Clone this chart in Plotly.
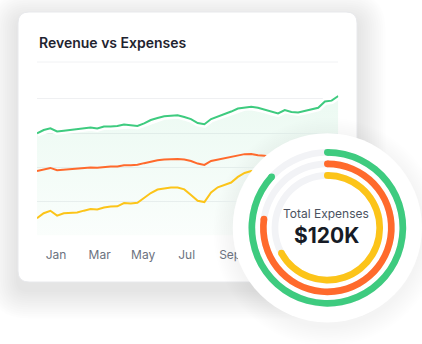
import plotly.graph_objects as go

W, H = 422, 344

# ---------------- data ----------------
month_labels = ["Jan", "Mar", "May", "Jul", "Sep", "Nov"]
month_ticks = [2.85, 9.35, 15.85, 22.35, 28.85, 35.35]   # sample index of each label

revenue = [74.9, 77.3, 78.5, 76.2, 76.8, 77.3, 77.8, 78.5, 79.1, 78.4,
           79.9, 79.9, 80.2, 81.3, 81.0, 80.2, 82.1, 84.6, 86.1, 87.3,
           87.7, 88.1, 86.8, 85.3, 82.4, 81.5, 85.3, 87.2, 88.6, 90.8,
           93.0, 93.9, 94.3, 93.6, 92.2, 90.5, 89.4, 91.9, 90.5, 90.1,
           91.2, 92.3, 93.6, 98.2, 98.8, 102.2]
expenses = [47.3, 48.5, 49.5, 47.8, 48.2, 48.3, 48.7, 49.2, 49.8, 49.6,
            50.2, 50.5, 50.6, 51.4, 51.5, 51.8, 53.0, 54.2, 55.1, 55.6,
            56.0, 56.1, 55.6, 54.6, 52.7, 51.7, 54.6, 55.7, 56.6, 57.5,
            58.8, 59.6, 59.7, 58.8, 58.5, 57.4, 56.7, 58.3, 57.4, 57.1,
            57.9, 58.6, 59.4, 62.4, 62.8, 65.1]
profit = [12.6, 16.3, 18.1, 14.6, 16.3, 16.5, 16.8, 18.2, 19.4, 19.0,
          20.5, 21.2, 21.4, 23.8, 23.4, 24.0, 27.8, 31.1, 33.7, 34.4,
          35.2, 35.2, 33.8, 29.7, 25.4, 24.5, 31.5, 35.3, 37.2, 38.8,
          42.9, 45.8, 47.3, 47.3, 45.1, 42.9, 41.4, 45.8, 43.6, 42.9,
          45.1, 46.5, 48.7, 56.8, 57.5, 62.6]

ring_names = ["Revenue", "Expenses", "Profit"]
ring_share = [0.868, 0.772, 0.670]          # fraction of a full turn
total_label = "Total Expenses"
total_value = "$120K"
title_text = "Revenue vs Expenses"

GREEN, ORANGE, YELLOW = "#3ECB7F", "#FF6A2C", "#FCC419"
ring_colors = [GREEN, ORANGE, YELLOW]
TRACK = "#F2F3F6"


def px_x(p):
    return p / W


def px_y(p):
    return 1 - p / H


def rrect(x0, y0, x1, y1, r):
    X0, X1 = px_x(x0), px_x(x1)
    Y0, Y1 = px_y(y0), px_y(y1)
    rx, ry = r / W, r / H
    return (f"M{X0+rx},{Y0} L{X1-rx},{Y0} Q{X1},{Y0} {X1},{Y0-ry} "
            f"L{X1},{Y1+ry} Q{X1},{Y1} {X1-rx},{Y1} L{X0+rx},{Y1} "
            f"Q{X0},{Y1} {X0},{Y1+ry} L{X0},{Y0-ry} Q{X0},{Y0} {X0+rx},{Y0} Z")


shapes = []
# card shadow
for k in range(1, 14):
    e = 2.2 * k
    shapes.append(dict(type="path", xref="paper", yref="paper", layer="below",
                       path=rrect(18 - e, 12 - e + 8, 357 + e, 282 + e + 8, 10 + e),
                       fillcolor="rgba(0,0,0,0.006)", line=dict(width=0)))
# card
shapes.append(dict(type="path", xref="paper", yref="paper", layer="below",
                   path=rrect(18, 12, 357, 282, 11),
                   fillcolor="white", line=dict(color="#E8E9EC", width=1)))
# header divider
shapes.append(dict(type="line", xref="paper", yref="paper", layer="below",
                   x0=px_x(37), x1=px_x(338), y0=px_y(62), y1=px_y(62),
                   line=dict(color="#F1F2F4", width=1)))
# round badge shadow
cx, cy, R = 327.35, 227.8, 94.65
for k in range(1, 12):
    e = 1.8 * k
    shapes.append(dict(type="circle", xref="paper", yref="paper", layer="below",
                       x0=px_x(cx - R - e), x1=px_x(cx + R + e),
                       y0=px_y(cy + 4 - R - e), y1=px_y(cy + 4 + R + e),
                       fillcolor="rgba(0,0,0,0.0045)", line=dict(width=0)))

fig = go.Figure()

# area under revenue
fig.add_trace(go.Scatter(y=revenue, mode="lines", fill="tozeroy",
                         line=dict(width=0, color="rgba(0,0,0,0)"),
                         fillgradient=dict(type="vertical",
                                           colorscale=[[0, "rgba(61,203,127,0.025)"],
                                                       [1, "rgba(61,203,127,0.10)"]]),
                         hoverinfo="skip", showlegend=False))
fig.add_trace(go.Scatter(y=revenue, mode="lines", line=dict(color="white", width=7),
                         hoverinfo="skip", showlegend=False))
fig.add_trace(go.Scatter(y=profit, mode="lines", name="Profit",
                         line=dict(color=YELLOW, width=2), showlegend=False))
fig.add_trace(go.Scatter(y=expenses, mode="lines", name="Expenses",
                         line=dict(color=ORANGE, width=2), showlegend=False))
fig.add_trace(go.Scatter(y=revenue, mode="lines", name="Revenue",
                         line=dict(color=GREEN, width=2), showlegend=False))

# rings
ring_mid = [0.7977, 0.6762, 0.5536]
ring_w = 0.0708
cap_px = 6.7
for mid in ring_mid:
    fig.add_trace(go.Barpolar(theta=[180], width=[360], r=[ring_w], base=[mid - ring_w / 2],
                              marker=dict(color=TRACK, line=dict(width=0)),
                              subplot="polar", showlegend=False, hoverinfo="skip"))
for name, share, col, mid in zip(ring_names, ring_share, ring_colors, ring_mid):
    span = share * 360
    fig.add_trace(go.Barpolar(theta=[span / 2], width=[span], r=[ring_w], base=[mid - ring_w / 2],
                              marker=dict(color=col, line=dict(width=0)), name=name,
                              subplot="polar", showlegend=False))
    fig.add_trace(go.Scatterpolar(theta=[0, span], r=[mid, mid], mode="markers",
                                  marker=dict(color=col, size=cap_px, line=dict(width=0)),
                                  subplot="polar", showlegend=False, hoverinfo="skip"))

annotations = [
    dict(text=title_text, x=px_x(37), y=px_y(42), xref="paper", yref="paper",
         xanchor="left", yanchor="middle", showarrow=False,
         font=dict(family="Inter", size=14, color="#1F2430", weight=600)),
    dict(text=total_label, x=px_x(326), y=px_y(213), xref="paper", yref="paper",
         xanchor="center", yanchor="middle", showarrow=False,
         font=dict(family="Inter", size=12, color="#4B5260")),
    dict(text=total_value, x=px_x(326), y=px_y(235), xref="paper", yref="paper",
         xanchor="center", yanchor="middle", showarrow=False,
         font=dict(family="Inter", size=21, color="#161B26", weight=700)),
]

fig.update_layout(
    width=W, height=H, margin=dict(l=0, r=0, t=0, b=0),
    paper_bgcolor="white", plot_bgcolor="rgba(0,0,0,0)",
    shapes=shapes, annotations=annotations, showlegend=False,
    xaxis=dict(domain=[px_x(37), px_x(338.3)], range=[0, len(revenue) - 1],
               tickvals=month_ticks, ticktext=month_labels,
               showgrid=False, zeroline=False, showline=False,
               ticks="outside", ticklen=8, tickcolor="rgba(0,0,0,0)",
               tickfont=dict(family="Inter", size=12, color="#6B7280")),
    yaxis=dict(domain=[px_y(235.5), px_y(62)], range=[0, 127.1],
               tickvals=[0, 25, 50, 75, 100], showticklabels=False,
               gridcolor="#EFF0F2", gridwidth=1, zeroline=False, showline=False),
    polar=dict(domain=dict(x=[px_x(cx - R), 1.0], y=[px_y(cy + R), px_y(cy - R)]),
               bgcolor="white", barmode="overlay", hole=0,
               radialaxis=dict(visible=False, range=[0, 1]),
               angularaxis=dict(visible=False, rotation=90, direction="clockwise")),
)

fig.write_html("out.html")
